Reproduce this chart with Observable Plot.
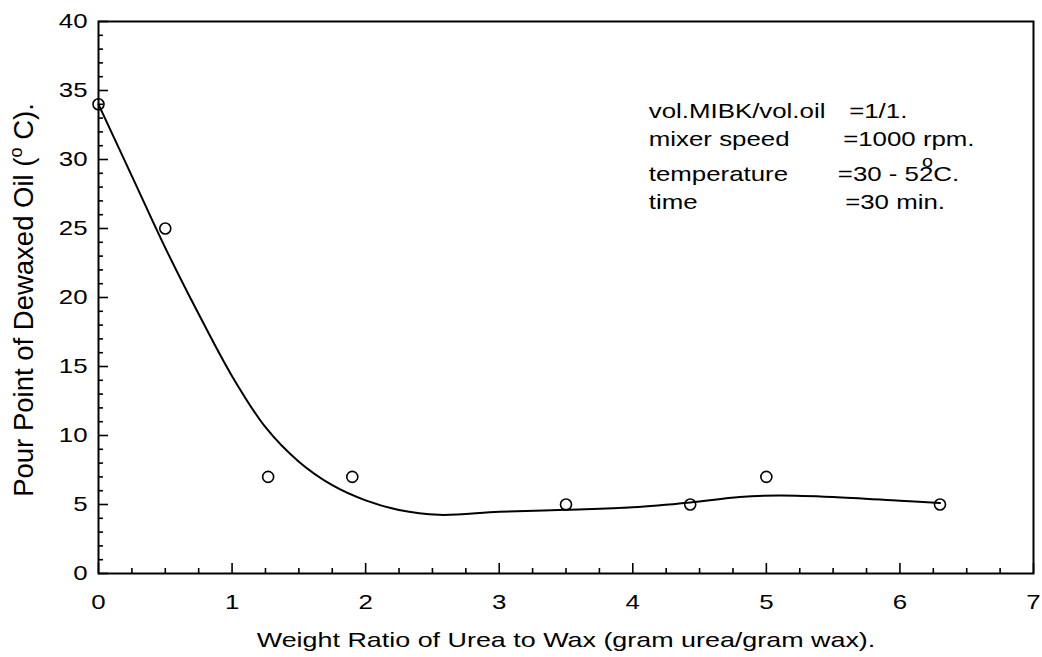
<!DOCTYPE html>
<html>
<head>
<meta charset="utf-8">
<script src="https://cdn.jsdelivr.net/npm/d3@7"></script>
<script src="https://cdn.jsdelivr.net/npm/@observablehq/plot@0.6"></script>
<style>
  html, body { margin: 0; padding: 0; background: #fff; }
  #chart { width: 1042px; height: 657px; }
</style>
</head>
<body>
<div id="chart"></div>
<script>
// ---- measured data ----
const ratioX = [0, 0.5, 1.27, 1.9, 3.5, 4.43, 5.0, 6.3];
const pourY  = [34, 25, 7, 7, 5, 5, 7, 5];

// smooth fitted curve
const fitX = [0, 0.25, 0.5, 0.75, 1.0, 1.25, 1.5, 1.75, 2.0, 2.25, 2.55, 3.0, 3.5, 4.0, 4.43, 4.8, 5.1, 5.5, 6.0, 6.3];
const fitY = [34, 28.8, 23.6, 18.8, 14.3, 10.6, 8.1, 6.4, 5.3, 4.6, 4.25, 4.47, 4.62, 4.8, 5.15, 5.55, 5.66, 5.55, 5.27, 5.1];

// ticks
const xMajor = [0, 1, 2, 3, 4, 5, 6, 7];
const xMinor = d3.range(0, 7.0001, 0.25).filter(v => v % 1 !== 0);
const yMajor = [0, 5, 10, 15, 20, 25, 30, 35, 40];
const yMinor = d3.range(0, 40.0001, 1).filter(v => v % 5 !== 0);

// annotation text
const noteLabels = ["vol.MIBK/vol.oil", "mixer speed", "temperature", "time"];
const noteValues = ["=1/1.", "=1000 rpm.", "=30 - 52C.", "=30 min."];
const xTitle = "Weight Ratio of Urea to Wax (gram urea/gram wax).";
const yTitleParts = ["Pour Point of Dewaxed Oil (", "o", " C)."];

// annotation placement (data units)
const noteY = [33.02, 30.96, 28.43, 26.44];
const noteLabelX = 4.12;
const noteValueX = [5.62, 5.575, 5.535, 5.59];
const degreePos = {x: 6.207, y: 29.85};

const points = ratioX.map((x, i) => ({x, y: pourY[i]}));
const fit = fitX.map((x, i) => ({x, y: fitY[i]}));
const notesL = noteLabels.map((t, i) => ({x: noteLabelX, y: noteY[i], t}));
const notesR = noteValues.map((t, i) => ({x: noteValueX[i], y: noteY[i], t}));

const plot = Plot.plot({
  width: 1042,
  height: 657,
  marginLeft: 98,
  marginRight: 9,
  marginTop: 21,
  marginBottom: 84,
  x: {domain: [0, 7]},
  y: {domain: [0, 40]},
  style: {
    fontFamily: "'Liberation Sans', Arial, Helvetica, sans-serif",
    fontSize: "21px",
    color: "black",
    background: "white"
  },
  marks: [
    Plot.axisX(xMinor, {tickSize: -5, tickFormat: () => "", strokeWidth: 1.6, label: null}),
    Plot.axisX(xMajor, {tickSize: -10, tickPadding: 31, tickFormat: d => String(d), strokeWidth: 1.6, label: null}),
    Plot.axisY(yMinor, {tickSize: -5, tickFormat: () => "", strokeWidth: 1.6, label: null}),
    Plot.axisY(yMajor, {tickSize: -10, tickPadding: 21, tickFormat: d => String(d), strokeWidth: 1.6, label: null}),
    Plot.frame({stroke: "black", strokeWidth: 2}),
    Plot.line(fit, {x: "x", y: "y", curve: "catmull-rom", stroke: "black", strokeWidth: 2}),
    Plot.dot(points, {x: "x", y: "y", r: 5.5, stroke: "black", strokeWidth: 1.6, fill: "none"}),
    Plot.text(notesL, {x: "x", y: "y", text: "t", textAnchor: "start", lineAnchor: "bottom", fill: "black"}),
    Plot.text(notesR, {x: "x", y: "y", text: "t", textAnchor: "start", lineAnchor: "bottom", fill: "black"}),
    Plot.text([degreePos], {x: "x", y: "y", text: () => "o", fontSize: 16, textAnchor: "middle", lineAnchor: "middle", fill: "black"}),
    Plot.text([xTitle], {frameAnchor: "bottom", dy: 73, text: d => d, lineAnchor: "bottom", textAnchor: "middle", fill: "black", className: "xtitle"})
  ]
});

document.getElementById("chart").appendChild(plot);

// widen horizontal text to match the reference's proportions
const svg = d3.select(plot);
svg.selectAll("text").each(function() {
  if (!this.textContent) return;
  const L = this.getComputedTextLength();
  const isTitle = this.textContent === xTitle;
  if (L > 0) {
    this.setAttribute("textLength", (L * (isTitle ? 1.28 : 1.23)).toFixed(2));
    this.setAttribute("lengthAdjust", "spacingAndGlyphs");
  }
});

// rotated y-axis title with superscript degree mark
const yt = svg.append("text")
  .attr("transform", "translate(33,300) rotate(-90)")
  .attr("text-anchor", "middle")
  .attr("fill", "black")
  .style("font-family", "'Liberation Sans', Arial, Helvetica, sans-serif")
  .style("font-size", "27.5px");
yt.append("tspan").text(yTitleParts[0]);
yt.append("tspan").attr("dy", -11).style("font-size", "18px").text(yTitleParts[1]);
yt.append("tspan").attr("dy", 11).text(yTitleParts[2]);
</script>
</body>
</html>
